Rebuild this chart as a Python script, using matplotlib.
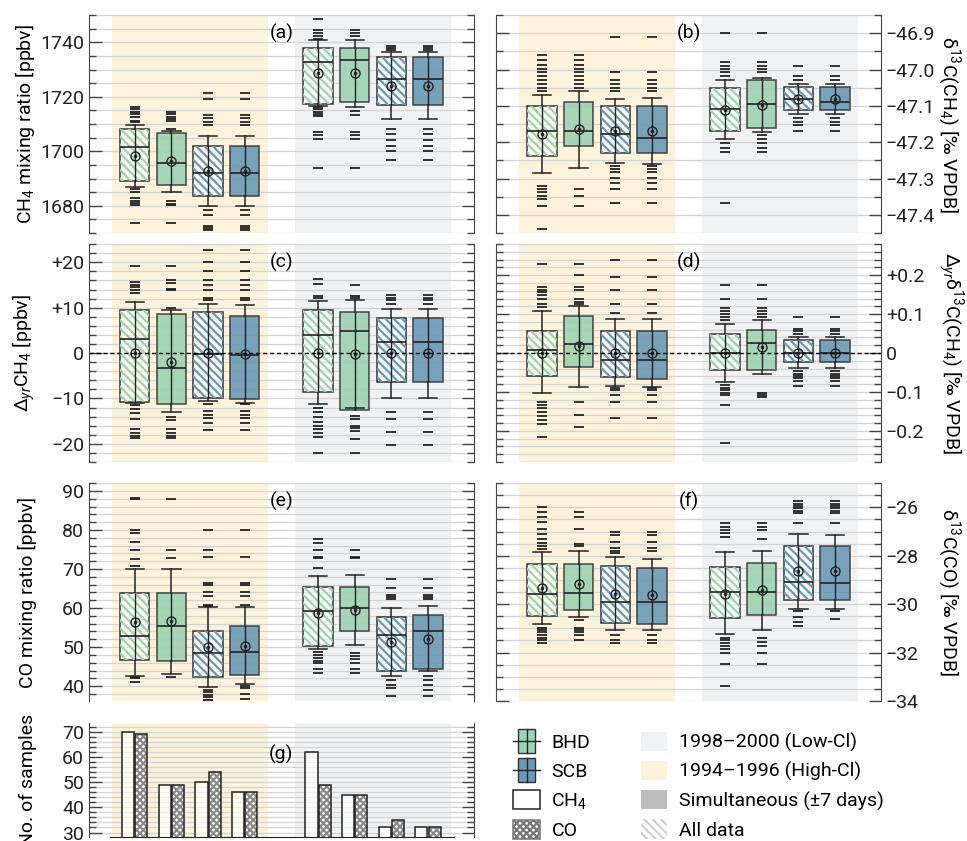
import matplotlib
matplotlib.use('Agg')
import matplotlib.pyplot as plt
from matplotlib.patches import Rectangle, Patch
from matplotlib.lines import Line2D
from matplotlib.legend_handler import HandlerBase
from matplotlib.ticker import MultipleLocator

plt.rcParams['font.family'] = ['Roboto', 'DejaVu Sans']
plt.rcParams['font.size'] = 14
plt.rcParams['mathtext.fontset'] = 'custom'
plt.rcParams['mathtext.rm'] = 'Roboto'
plt.rcParams['mathtext.it'] = 'Roboto:italic'
plt.rcParams['hatch.linewidth'] = 1.6

# box order in each period: BHD all, BHD simultaneous, SCB all, SCB simultaneous
# first four boxes 1994-1996, last four 1998-2000
# each row: whisker low, q1, median, q3, whisker high, mean
CH4_BOX = [
    [1686.7, 1688.9, 1701.7, 1708.1, 1709.8, 1698.4],
    [1684.9, 1687.7, 1695.7, 1706.7, 1707.6, 1696.3],
    [1680.0, 1683.6, 1691.9, 1702.1, 1705.6, 1692.7],
    [1680.0, 1683.6, 1691.9, 1702.1, 1705.6, 1692.7],
    [1716.7, 1717.4, 1732.8, 1737.8, 1740.7, 1728.7],
    [1716.2, 1718.0, 1733.6, 1737.8, 1740.7, 1728.6],
    [1711.8, 1716.9, 1726.5, 1734.8, 1736.4, 1724.0],
    [1711.8, 1716.9, 1726.5, 1734.8, 1736.4, 1724.0],
]
CH4_FLIERS = [
    [1673.5, 1680.3, 1680.9, 1681.6, 1683.0, 1685.2, 1686.0, 1710.6, 1711.1, 1712.5, 1713.6, 1714.6, 1715.4, 1716.2],
    [1673.5, 1680.1, 1680.8, 1681.6, 1708.2, 1711.1, 1711.9, 1712.7, 1713.7, 1714.5],
    [1671.0, 1671.7, 1672.6, 1676.5, 1678.4, 1709.8, 1710.6, 1712.1, 1713.5, 1719.1, 1721.5],
    [1671.0, 1671.7, 1672.6, 1676.5, 1678.4, 1709.8, 1710.6, 1712.1, 1713.5, 1719.1, 1721.5],
    [1693.7, 1704.4, 1706.0, 1707.2, 1713.1, 1713.8, 1714.6, 1715.4, 1716.2, 1741.4, 1742.2, 1743.4, 1744.7, 1748.7],
    [1693.7, 1704.4, 1706.0, 1707.2, 1713.2, 1714.7, 1742.2, 1743.4, 1744.7],
    [1696.8, 1700.2, 1702.1, 1704.1, 1706.2, 1708.2, 1737.3, 1737.9, 1738.5],
    [1696.8, 1700.2, 1702.1, 1704.1, 1706.2, 1708.2, 1737.3, 1737.9, 1738.5],
]

D13CH4_BOX = [
    [-47.286, -47.238, -47.169, -47.101, -47.071, -47.177],
    [-47.271, -47.210, -47.169, -47.089, -47.058, -47.165],
    [-47.258, -47.229, -47.178, -47.101, -47.080, -47.169],
    [-47.260, -47.229, -47.189, -47.101, -47.079, -47.169],
    [-47.190, -47.170, -47.109, -47.051, -47.030, -47.111],
    [-47.171, -47.162, -47.095, -47.030, -47.022, -47.098],
    [-47.123, -47.112, -47.082, -47.048, -47.041, -47.082],
    [-47.123, -47.112, -47.089, -47.048, -47.041, -47.082],
]
D13CH4_FLIERS = [
    [-47.438, -47.377, -47.357, -47.347, -47.338, -47.329, -47.320, -47.058, -47.051, -47.040, -47.029,
     -47.019, -47.008, -46.998, -46.987, -46.973, -46.959],
    [-47.377, -47.347, -47.329, -47.051, -47.040, -47.029, -47.019, -47.008, -46.998, -46.987, -46.973, -46.959],
    [-47.367, -47.329, -47.312, -47.299, -47.283, -47.274, -47.265, -47.060, -47.051, -47.040, -47.029, -47.008, -46.909],
    [-47.367, -47.329, -47.312, -47.299, -47.283, -47.274, -47.265, -47.060, -47.051, -47.040, -47.029, -47.008, -46.909],
    [-47.367, -47.228, -47.215, -47.201, -47.019, -47.008, -46.999, -46.989, -46.980, -46.900],
    [-47.228, -47.215, -47.203, -47.192, -47.180, -47.008, -46.999, -46.989, -46.980, -46.900],
    [-47.169, -47.153, -47.143, -47.133, -47.030, -47.019, -46.989],
    [-47.169, -47.153, -47.143, -47.133, -47.030, -47.019, -46.989],
]

DCH4_BOX = [
    [-10.9, -10.8, 3.0, 9.5, 11.2, 0.0],
    [-13.0, -11.2, -3.3, 8.7, 9.4, -1.9],
    [-10.6, -10.0, -0.3, 9.0, 10.9, 0.0],
    [-10.9, -10.2, -0.4, 8.2, 10.6, -0.2],
    [-11.2, -8.5, 4.0, 9.5, 11.4, 0.0],
    [-12.1, -12.6, 4.9, 9.1, 11.7, -0.3],
    [-9.8, -6.3, 2.5, 7.8, 9.8, 0.0],
    [-9.8, -6.3, 2.5, 7.8, 9.8, 0.0],
]
DCH4_FLIERS = [
    [-18.8, -18.2, -17.6, -16.7, -14.5, -13.3, -12.3, -11.4, 13.3, 14.0, 14.6, 15.1, 15.7, 19.1],
    [-18.8, -18.3, -17.6, -16.7, -14.7, -14.0, 9.9, 13.8, 14.2, 15.5, 16.0, 19.1],
    [-16.9, -15.5, -14.3, -13.6, -12.8, -11.2, 11.7, 12.2, 13.8, 15.1, 16.0, 18.0, 20.0, 22.6],
    [-16.9, -15.5, -14.3, -13.6, -12.8, -11.2, 11.7, 12.2, 13.8, 15.1, 16.0, 18.0, 20.0, 22.6],
    [-22.0, -18.5, -17.6, -16.7, -16.1, -15.2, -14.2, -13.1, -12.0, 12.1, 12.5, 15.3, 16.3],
    [-22.0, -18.9, -17.1, -16.5, -16.0, -14.5, -13.8, 12.1, 12.5, 15.0],
    [-20.3, -17.5, -14.5, -12.9, 10.9, 11.7, 12.2, 12.7],
    [-20.3, -17.5, -14.5, -12.9, 10.9, 11.7, 12.2, 12.7],
]

DD13CH4_BOX = [
    [-0.103, -0.060, 0.007, 0.056, 0.108, 0.0],
    [-0.086, -0.036, 0.024, 0.096, 0.122, 0.019],
    [-0.085, -0.062, -0.017, 0.057, 0.087, 0.0],
    [-0.087, -0.067, -0.017, 0.057, 0.087, 0.0],
    [-0.075, -0.043, 0.0, 0.048, 0.074, 0.0],
    [-0.054, -0.043, 0.026, 0.060, 0.086, 0.016],
    [-0.039, -0.022, 0.0, 0.034, 0.042, 0.0],
    [-0.039, -0.022, 0.0, 0.034, 0.042, 0.0],
]
DD13CH4_FLIERS = [
    [-0.215, -0.183, -0.172, -0.162, -0.151, -0.140, -0.133, -0.127, 0.119, 0.126, 0.138, 0.150, 0.157, 0.163, 0.169, 0.229],
    [-0.190, -0.159, -0.125, 0.126, 0.132, 0.138, 0.161, 0.169, 0.200, 0.229],
    [-0.166, -0.126, -0.108, -0.096, -0.091, 0.103, 0.125, 0.163, 0.195, 0.238],
    [-0.166, -0.126, -0.108, -0.096, -0.091, 0.103, 0.125, 0.163, 0.195, 0.238],
    [-0.232, -0.134, -0.108, -0.102, -0.095, -0.089, -0.083, 0.086, 0.093, 0.101, 0.108, 0.115, 0.138, 0.174],
    [-0.113, -0.108, -0.102, 0.093, 0.101, 0.108, 0.115, 0.138, 0.174],
    [-0.085, -0.072, -0.065, -0.059, -0.053, -0.046, 0.050, 0.056, 0.063, 0.092],
    [-0.085, -0.072, -0.065, -0.059, -0.053, -0.046, 0.050, 0.056, 0.063, 0.092],
]

CO_BOX = [
    [42.7, 46.8, 52.9, 63.8, 70.0, 56.4],
    [43.0, 46.4, 55.3, 63.8, 70.0, 56.6],
    [39.8, 42.4, 48.6, 54.2, 60.2, 50.1],
    [40.6, 42.8, 48.7, 55.4, 60.2, 50.4],
    [49.4, 50.4, 59.2, 65.3, 68.1, 58.7],
    [50.6, 54.1, 60.0, 65.3, 68.5, 59.6],
    [42.6, 43.9, 53.0, 57.6, 60.1, 51.2],
    [43.8, 44.3, 54.0, 58.1, 60.6, 52.0],
]
CO_FLIERS = [
    [41.1, 42.0, 42.4, 70.7, 72.6, 74.8, 76.9, 79.3, 80.0, 87.9, 88.3],
    [42.4, 72.8, 74.8, 87.9],
    [36.4, 37.1, 37.7, 38.4, 39.0, 60.6, 60.9, 63.2, 64.0, 66.0, 66.4, 73.0, 75.0, 79.9],
    [36.8, 37.9, 39.4, 40.0, 60.9, 63.2, 64.0, 66.0, 66.4, 73.0, 79.9],
    [43.3, 44.3, 45.8, 46.4, 47.3, 48.0, 48.7, 70.2, 72.8, 73.1, 74.8, 76.7, 77.7],
    [43.3, 44.3, 46.0, 47.0, 47.8, 48.4, 72.8, 73.1, 74.8],
    [37.4, 39.5, 40.3, 41.7, 62.4, 62.9, 63.4, 65.2, 67.4],
    [37.4, 39.0, 40.3, 41.7, 42.7, 62.4, 62.9, 63.4, 65.2, 67.4],
]

D13CO_BOX = [
    [-30.81, -30.50, -29.60, -28.34, -27.86, -29.32],
    [-30.54, -30.23, -29.54, -28.32, -27.81, -29.17],
    [-31.08, -30.79, -29.89, -28.41, -28.07, -29.56],
    [-31.08, -30.80, -29.89, -28.50, -28.15, -29.61],
    [-31.24, -30.59, -29.49, -28.48, -27.86, -29.56],
    [-31.05, -30.43, -29.49, -28.28, -27.79, -29.41],
    [-30.18, -29.83, -29.09, -27.59, -27.10, -28.65],
    [-30.18, -29.81, -29.13, -27.59, -27.14, -28.65],
]
D13CO_FLIERS = [
    [-31.59, -31.49, -31.38, -31.27, -31.17, -31.06, -30.97, -27.72, -27.61, -27.48, -27.31, -27.10, -26.90,
     -26.62, -26.41, -26.20, -26.00],
    [-31.49, -31.27, -31.17, -31.06, -30.97, -30.66, -27.61, -27.52, -26.90, -26.41, -26.20],
    [-31.60, -31.49, -31.27, -27.89, -27.79, -27.66, -27.45, -27.14, -27.00],
    [-31.60, -31.49, -31.27, -27.79, -27.66, -27.45, -27.14, -27.00],
    [-33.38, -32.48, -32.03, -31.86, -31.72, -31.59, -31.48, -31.38, -27.24, -27.08, -26.94, -26.80, -26.66],
    [-32.48, -32.03, -31.72, -31.55, -31.38, -27.32, -26.94, -26.80, -26.66],
    [-30.90, -30.73, -30.54, -30.30, -26.65, -26.25, -26.14, -26.04, -25.95, -25.85, -25.75],
    [-30.63, -30.30, -26.65, -26.25, -26.14, -26.04, -25.95, -25.85, -25.75],
]

N_CH4 = [70, 49, 50, 46, 62, 45, 32, 32]
N_CO = [69, 49, 54, 46, 49, 45, 35, 32]

POS = [1, 2, 3, 4, 6, 7, 8, 9]
HIGH_CL = (0.375, 4.625)
LOW_CL = (5.375, 9.625)

GREEN = '#9fd2b1'
BLUE = '#6b9ab6'
YELLOW = '#fdf3dc'
GRAY = '#f1f2f4'
DARK = '#222222'

TICKS_B = [-46.9, -47.0, -47.1, -47.2, -47.3, -47.4]
LABELS_B = ['\u221246.9', '\u221247.0', '\u221247.1', '\u221247.2', '\u221247.3', '\u221247.4']
TICKS_C = [-20, -10, 0, 10, 20]
LABELS_C = ['\u221220', '\u221210', '0', '+10', '+20']
TICKS_D = [-0.2, -0.1, 0, 0.1, 0.2]
LABELS_D = ['\u22120.2', '\u22120.1', '0', '+0.1', '+0.2']
TICKS_F = [-34, -32, -30, -28, -26]
LABELS_F = ['\u221234', '\u221232', '\u221230', '\u221228', '\u221226']


def setup(ax, ylim, minor, side, label, letter):
    ax.axvspan(*HIGH_CL, color=YELLOW, lw=0, zorder=0)
    ax.axvspan(*LOW_CL, color=GRAY, lw=0, zorder=0)
    ax.yaxis.set_minor_locator(MultipleLocator(minor))
    ax.grid(axis='y', which='both', color='#d3d3d3', lw=0.9)
    ax.set_axisbelow(True)
    ax.spines['top'].set_visible(False)
    ax.spines['bottom'].set_visible(False)
    for s in ['left', 'right']:
        ax.spines[s].set_color('#444')
    ax.tick_params(axis='y', which='both', direction='in', left=True, right=True,
                   labelleft=(side == 'left'), labelright=(side == 'right'),
                   colors='#444', labelcolor=DARK, labelsize=14)
    ax.tick_params(axis='y', which='major', length=9, width=1)
    ax.tick_params(axis='y', which='minor', length=5, width=1)
    if side == 'left':
        ax.set_ylabel(label, fontsize=14)
        ax.yaxis.set_label_coords(-0.135, 0.5)
    else:
        ax.yaxis.set_label_position('right')
        ax.set_ylabel(label, rotation=270, va='bottom', fontsize=14)
        ax.yaxis.set_label_coords(1.14, 0.5)
    ax.text(5, 0.915, letter, transform=ax.get_xaxis_transform(), ha='center', va='center', fontsize=14)


def finish(ax, ylim):
    ax.set_xticks([])
    ax.set_xlim(-0.25, 10.25)
    ax.set_ylim(*ylim)


def draw_boxes(ax, boxes, fliers):
    stats = []
    for row, fl in zip(boxes, fliers):
        lo, q1, med, q3, hi, mean = row
        stats.append(dict(whislo=lo, q1=q1, med=med, q3=q3, whishi=hi, mean=mean, fliers=fl))
    res = ax.bxp(stats, positions=POS, widths=0.8, capwidths=0.5, patch_artist=True,
                 showmeans=True, manage_ticks=False,
                 boxprops=dict(edgecolor='#333', lw=1.1),
                 whiskerprops=dict(color=DARK, lw=1.1),
                 capprops=dict(color=DARK, lw=1.1),
                 medianprops=dict(color=DARK, lw=1.2, zorder=2.1),
                 meanprops=dict(marker='o', mfc='none', mec=DARK, ms=6.5, mew=1.0, zorder=2.2),
                 flierprops=dict(marker='_', mec=DARK, ms=7, mew=1.3))
    for i, patch in enumerate(res['boxes']):
        col = GREEN if i % 4 < 2 else BLUE
        s = stats[i]
        if i % 2 == 0:
            patch.set_facecolor((1, 1, 1, 0.55))
            ax.add_patch(Rectangle((POS[i] - 0.4, s['q1']), 0.8, s['q3'] - s['q1'], fill=False,
                                   hatch='\\\\\\\\', edgecolor=col, lw=0, zorder=2.02))
        else:
            patch.set_facecolor(col)
            patch.set_alpha(0.9)
            patch.set_edgecolor('#333')
    ax.vlines(POS, [s['q1'] for s in stats], [s['q3'] for s in stats], color=DARK, lw=1.0, zorder=2.05)
    ax.plot(POS, [s['mean'] for s in stats], ls='none', marker='o', ms=1.6, color=DARK, zorder=2.3)


fig = plt.figure(figsize=(9.67, 8.41), dpi=100)
XL, XR, W = 0.092, 0.513, 0.398
ROWS = [0.723, 0.4507, 0.1665]
H = 0.259

ax_a = fig.add_axes([XL, ROWS[0], W, H])
ax_b = fig.add_axes([XR, ROWS[0], W, H])
ax_c = fig.add_axes([XL, ROWS[1], W, H])
ax_d = fig.add_axes([XR, ROWS[1], W, H])
ax_e = fig.add_axes([XL, ROWS[2], W, H])
ax_f = fig.add_axes([XR, ROWS[2], W, H])
ax_g = fig.add_axes([XL, 0.005, W, 0.1356])

setup(ax_a, (1670, 1750), 5, 'left', r'CH$_4$ mixing ratio [ppbv]', '(a)')
ax_a.set_yticks([1680, 1700, 1720, 1740])
draw_boxes(ax_a, CH4_BOX, CH4_FLIERS)
finish(ax_a, (1670, 1750))

setup(ax_b, (-47.45, -46.85), 0.05, 'right', '\u03b4$^{13}$C(CH$_4$) [\u2030 VPDB]', '(b)')
ax_b.set_yticks(TICKS_B, LABELS_B)
draw_boxes(ax_b, D13CH4_BOX, D13CH4_FLIERS)
finish(ax_b, (-47.45, -46.85))

setup(ax_c, (-24, 24), 2, 'left', '\u0394$_{yr}$CH$_4$ [ppbv]', '(c)')
ax_c.set_yticks(TICKS_C, LABELS_C)
ax_c.axhline(0, color='k', ls=(0, (3, 2)), lw=1, zorder=2.4)
draw_boxes(ax_c, DCH4_BOX, DCH4_FLIERS)
finish(ax_c, (-24, 24))

setup(ax_d, (-0.28, 0.28), 0.02, 'right', '\u0394$_{yr}$\u03b4$^{13}$C(CH$_4$) [\u2030 VPDB]', '(d)')
ax_d.set_yticks(TICKS_D, LABELS_D)
ax_d.axhline(0, color='k', ls=(0, (3, 2)), lw=1, zorder=2.4)
draw_boxes(ax_d, DD13CH4_BOX, DD13CH4_FLIERS)
finish(ax_d, (-0.28, 0.28))

setup(ax_e, (36.2, 92), 2, 'left', 'CO mixing ratio [ppbv]', '(e)')
ax_e.set_yticks([40, 50, 60, 70, 80, 90])
draw_boxes(ax_e, CO_BOX, CO_FLIERS)
finish(ax_e, (36.2, 92))

setup(ax_f, (-34, -25), 0.5, 'right', '\u03b4$^{13}$C(CO) [\u2030 VPDB]', '(f)')
ax_f.set_yticks(TICKS_F, LABELS_F)
draw_boxes(ax_f, D13CO_BOX, D13CO_FLIERS)
finish(ax_f, (-34, -25))

setup(ax_g, (28.3, 73.5), 2, 'left', 'No. of samples', '(g)')
ax_g.set_yticks([30, 40, 50, 60, 70])
ax_g.texts[-1].set_y(0.72)
x_ch4 = [p - 0.18 for p in POS]
x_co = [p + 0.18 for p in POS]
ax_g.bar(x_ch4, N_CH4, width=0.33, facecolor=(1, 1, 1, 0.6), edgecolor=DARK, lw=1.1, zorder=2)
ax_g.bar(x_co, N_CO, width=0.33, facecolor='white', edgecolor='#8a8a8a', hatch='xxxxx', lw=0, zorder=2)
ax_g.bar(x_co, N_CO, width=0.33, fill=False, edgecolor=DARK, lw=1.1, zorder=2.1)
finish(ax_g, (28.3, 73.5))
ax_g.spines['bottom'].set_visible(True)
ax_g.spines['bottom'].set_color(DARK)
ax_g.spines['bottom'].set_bounds(0.32, 9.7)


class BoxIcon(HandlerBase):
    def create_artists(self, legend, orig_handle, xdescent, ydescent, width, height, fontsize, trans):
        x0, y0 = -xdescent, -ydescent
        cx = x0 + width / 2
        bw = width * 0.66
        rect = Rectangle((cx - bw / 2, y0 - 0.12 * height), bw, height * 1.24,
                         facecolor=orig_handle.get_facecolor(), edgecolor='#333', lw=1, transform=trans)
        hl = Line2D([x0, x0 + width], [y0 + height / 2] * 2, color=DARK, lw=1, transform=trans)
        vl = Line2D([cx, cx], [y0 - 0.12 * height, y0 + 1.12 * height], color=DARK, lw=1, transform=trans)
        return [rect, hl, vl]


h_bhd = Patch(facecolor=GREEN)
h_scb = Patch(facecolor=BLUE)
h_ch4 = Patch(facecolor='white', edgecolor=DARK, lw=1.1)
h_co = Patch(facecolor='white', edgecolor='#777', hatch='xxxxx', lw=1.1)
h_low = Patch(facecolor=GRAY, lw=0)
h_high = Patch(facecolor=YELLOW, lw=0)
h_sim = Patch(facecolor='#bdbdbd', lw=0)
h_all = Patch(facecolor='white', edgecolor='#cfcfcf', hatch='\\\\\\\\', lw=0)

handles = [h_bhd, h_scb, h_ch4, h_co, h_low, h_high, h_sim, h_all]
labels = ['BHD', 'SCB', r'CH$_4$', 'CO', '1998\u20132000 (Low-Cl)', '1994\u20131996 (High-Cl)',
          'Simultaneous (\u00b17 days)', 'All data']
fig.legend(handles, labels, loc='upper left', bbox_to_anchor=(0.531, 0.130), ncol=2, frameon=False,
           fontsize=14, handlelength=1.35, handleheight=1.15, labelspacing=0.45, handletextpad=0.6,
           columnspacing=2.6, borderpad=0, borderaxespad=0,
           handler_map={h_bhd: BoxIcon(), h_scb: BoxIcon()})

fig.savefig('out.png', dpi=100)
